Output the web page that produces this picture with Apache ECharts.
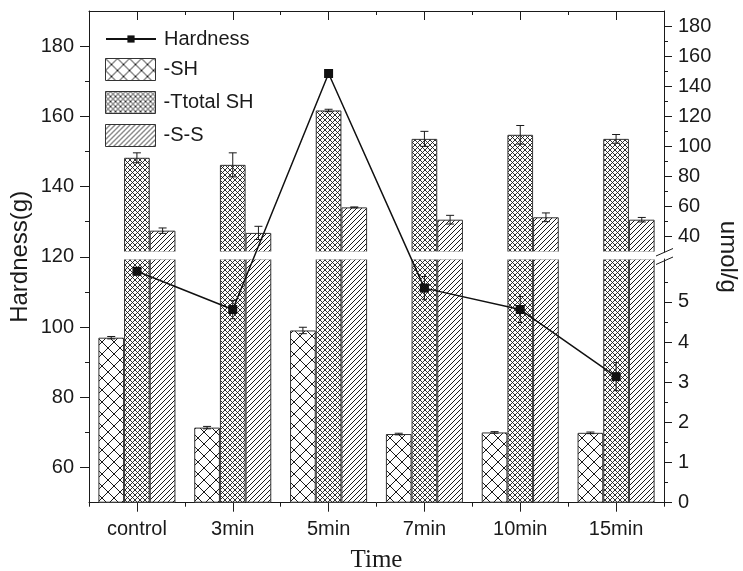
<!DOCTYPE html>
<html>
<head>
<meta charset="utf-8">
<script src="https://cdn.jsdelivr.net/npm/echarts@6/dist/echarts.min.js"></script>
<style>
html,body{margin:0;padding:0;background:#fff;}
#chart{width:743px;height:571px;}
</style>
</head>
<body>
<div id="chart"></div>
<script>
// Treatment times
const categories = ['control', '3min', '5min', '7min', '10min', '15min'];

// Hardness (g), left axis
const hardness = [115.9, 105, 172.2, 111.1, 105, 85.9];
const hardnessErr = [1, 2.6, 1, 3.3, 3.7, 4];

// Sulfhydryl / disulfide contents (umol/g), right axis
const freeSH = [4.11, 1.87, 4.29, 1.71, 1.75, 1.74];
const freeSHErr = [0.03, 0.03, 0.08, 0.02, 0.02, 0.02];
const totalSH = [92.3, 87.6, 123.8, 104.9, 107.6, 104.9];
const totalSHErr = [3.3, 8, 0.8, 5, 6.2, 2.9];
const disulfide = [43.8, 42.3, 59.3, 51.1, 52.7, 51.1];
const disulfideErr = [1.8, 4.4, 0.3, 2.9, 2.9, 1.5];

// Tick values
const leftTicks = [60, 80, 100, 120, 140, 160, 180];
const leftMinor = [70, 90, 110, 130, 150, 170];
const upperTicks = [40, 60, 80, 100, 120, 140, 160, 180];
const upperMinor = [50, 70, 90, 110, 130, 150, 170];
const lowerTicks = [0, 1, 2, 3, 4, 5];
const lowerMinor = [0.5, 1.5, 2.5, 3.5, 4.5, 5.5];

const FONT = "'Liberation Sans', Arial, sans-serif";
const INK = '#1a1a1a';
const CAT_GAP = 0.196;

function hatch(size, dirs, lw) {
  const c = document.createElement('canvas');
  c.width = c.height = size;
  const g = c.getContext('2d');
  g.fillStyle = '#fff';
  g.fillRect(0, 0, size, size);
  g.strokeStyle = INK;
  g.lineWidth = lw;
  dirs.forEach(function (d) {
    [-size, 0, size].forEach(function (k) {
      g.beginPath();
      if (d === '/') { g.moveTo(k - 1, size + 1); g.lineTo(k + size + 1, -1); }
      else { g.moveTo(k - 1, -1); g.lineTo(k + size + 1, size + 1); }
      g.stroke();
    });
  });
  return c;
}

const patSH = { image: hatch(12, ['/', '\\'], 1), repeat: 'repeat' };
const patTotal = { image: hatch(5, ['/', '\\'], 0.9), repeat: 'repeat' };
const patSS = { image: hatch(5, ['/'], 1), repeat: 'repeat' };

const barStyle = function (pat) {
  return { color: pat, borderColor: '#333', borderWidth: 1 };
};

// Error bar drawn at the slot of bar number `slot` (0..2), or at the category center when slot is null
function errorBars(slot, cap) {
  return function (params, api) {
    const i = api.value(0), v = api.value(1), e = api.value(2);
    const band = api.size([1, 0])[0];
    const bw = band * (1 - CAT_GAP) / 3;
    const x = api.coord([i, v])[0] + (slot === null ? 0 : (slot - 1) * bw);
    const yt = api.coord([i, v + e])[1];
    const yb = api.coord([i, v - e])[1];
    const st = { stroke: INK, lineWidth: 1 };
    return {
      type: 'group',
      children: [
        { type: 'line', shape: { x1: x, y1: yt, x2: x, y2: yb }, style: st },
        { type: 'line', shape: { x1: x - cap / 2, y1: yt, x2: x + cap / 2, y2: yt }, style: st },
        { type: 'line', shape: { x1: x - cap / 2, y1: yb, x2: x + cap / 2, y2: yb }, style: st }
      ]
    };
  };
}
function errData(values, errs) {
  return values.map(function (v, i) { return [i, v, errs[i]]; });
}

const W = 743, H = 571;
const GRID_L = 89, GRID_R = 79, GRID_T = 11, GRID_B = 68.3;
const UPPER_BOTTOM = 252, LOWER_TOP = 259;

const lineOn = { show: true, lineStyle: { color: INK, width: 1 } };
const lineOff = { show: false };
const labelStyle = { color: INK, fontSize: 20, fontFamily: FONT };

function catAxis(grid, pos, opts) {
  return Object.assign({
    type: 'category', data: categories, gridIndex: grid, position: pos,
    boundaryGap: true, splitLine: { show: false }
  }, opts);
}
function valAxis(grid, pos, min, max, opts) {
  return Object.assign({
    type: 'value', gridIndex: grid, position: pos, min: min, max: max,
    splitLine: { show: false }
  }, opts);
}

const legendText = { color: INK, fontSize: 20, fontFamily: FONT, padding: [0, 0, 0, 3] };

const option = {
  animation: false,
  backgroundColor: '#fff',
  grid: [
    { left: GRID_L, right: GRID_R, top: GRID_T, bottom: GRID_B, outerBoundsMode: 'none', containLabel: false },
    { left: GRID_L, right: GRID_R, top: GRID_T, bottom: H - UPPER_BOTTOM, outerBoundsMode: 'none', containLabel: false },
    { left: GRID_L, right: GRID_R, top: LOWER_TOP, bottom: GRID_B, outerBoundsMode: 'none', containLabel: false }
  ],
  legend: [
    {
      left: 100, top: 24, itemWidth: 50, itemHeight: 9,
      textStyle: legendText,
      data: ['Hardness']
    },
    {
      orient: 'vertical', left: 100, top: 53,
      itemWidth: 50, itemHeight: 22, itemGap: 10,
      textStyle: legendText,
      data: [
        { name: '-SH', icon: 'rect', itemStyle: { borderColor: '#333', borderWidth: 1 } },
        { name: '-Ttotal SH', icon: 'rect', itemStyle: { borderColor: '#333', borderWidth: 1 } },
        { name: '-S-S', icon: 'rect', itemStyle: { borderColor: '#333', borderWidth: 1 } }
      ]
    }
  ],
  xAxis: [
    catAxis(0, 'bottom', {
      axisLine: lineOn,
      axisTick: { show: true, alignWithLabel: true, length: 9, lineStyle: { color: INK } },
      axisLabel: Object.assign({ margin: 17 }, labelStyle),
      name: 'Time', nameLocation: 'middle', nameGap: 45,
      nameTextStyle: { color: INK, fontSize: 25, fontFamily: "'Liberation Serif', 'Times New Roman', serif" }
    }),
    catAxis(0, 'bottom', {
      axisLine: lineOff,
      axisTick: { show: true, alignWithLabel: false, length: 4, lineStyle: { color: INK } },
      axisLabel: { show: false }
    }),
    catAxis(0, 'top', {
      axisLine: lineOn,
      axisTick: { show: true, inside: true, alignWithLabel: true, length: 9, lineStyle: { color: INK } },
      axisLabel: { show: false }
    }),
    catAxis(0, 'top', {
      axisLine: lineOff,
      axisTick: { show: true, inside: true, alignWithLabel: false, length: 4, lineStyle: { color: INK } },
      axisLabel: { show: false }
    }),
    catAxis(1, 'bottom', { show: false }),
    catAxis(2, 'bottom', { show: false })
  ],
  yAxis: [
    valAxis(0, 'left', 50, 190, {
      axisLine: lineOn,
      axisTick: { show: true, length: 9, customValues: leftTicks, lineStyle: { color: INK } },
      axisLabel: Object.assign({ customValues: leftTicks, margin: 15 }, labelStyle),
      name: 'Hardness(g)', nameLocation: 'middle', nameRotate: 90, nameGap: 57,
      nameMoveOverlap: false,
      nameTextStyle: { color: INK, fontSize: 24, fontFamily: FONT }
    }),
    valAxis(0, 'left', 50, 190, {
      axisLine: lineOff,
      axisTick: { show: true, length: 4, customValues: leftMinor, lineStyle: { color: INK } },
      axisLabel: { show: false }
    }),
    valAxis(1, 'right', 29.6, 190, {
      axisLine: lineOn,
      axisTick: { show: true, length: 8, customValues: upperTicks, lineStyle: { color: INK } },
      axisLabel: Object.assign({ customValues: upperTicks, margin: 14 }, labelStyle)
    }),
    valAxis(1, 'right', 29.6, 190, {
      axisLine: lineOff,
      axisTick: { show: true, length: 4, customValues: upperMinor, lineStyle: { color: INK } },
      axisLabel: { show: false }
    }),
    valAxis(2, 'right', 0, 6.07, {
      axisLine: lineOn,
      axisTick: { show: true, length: 8, customValues: lowerTicks, lineStyle: { color: INK } },
      axisLabel: Object.assign({ customValues: lowerTicks, margin: 14 }, labelStyle)
    }),
    valAxis(2, 'right', 0, 6.07, {
      axisLine: lineOff,
      axisTick: { show: true, length: 4, customValues: lowerMinor, lineStyle: { color: INK } },
      axisLabel: { show: false }
    }),
    valAxis(0, 'right', 0, 1, {
      axisLine: lineOff, axisTick: { show: false }, axisLabel: { show: false },
      name: 'umol/g', nameLocation: 'middle', nameRotate: -90, nameGap: 52,
      nameTextStyle: { color: INK, fontSize: 24, fontFamily: FONT }
    })
  ],
  series: [],
  graphic: [
    // white band separating the two panels of the broken right axis
    { type: 'rect', z: 5, silent: true,
      shape: { x: GRID_L + 1, y: UPPER_BOTTOM - 0.5, width: W - GRID_L - GRID_R - 2, height: LOWER_TOP - UPPER_BOTTOM + 1 },
      style: { fill: '#fff' } },
    // axis break marks
    { type: 'line', z: 100, shape: { x1: 656, y1: 256, x2: 673, y2: 248.5 }, style: { stroke: INK, lineWidth: 1 } },
    { type: 'line', z: 100, shape: { x1: 656, y1: 264.5, x2: 673, y2: 257 }, style: { stroke: INK, lineWidth: 1 } }
  ]
};

// Bars: drawn in both the upper (30-190) and lower (0-6) panels of the broken right axis
[[4, 2], [5, 4]].forEach(function (ax) {
  [['-SH', freeSH, patSH], ['-Ttotal SH', totalSH, patTotal], ['-S-S', disulfide, patSS]].forEach(function (s) {
    option.series.push({
      type: 'bar', name: s[0], data: s[1],
      xAxisIndex: ax[0], yAxisIndex: ax[1],
      barGap: '0%', barCategoryGap: (CAT_GAP * 100) + '%',
      clip: true, itemStyle: barStyle(s[2]), z: 2
    });
  });
});

// Error bars on the bars
option.series.push(
  { type: 'custom', name: 'err-total', xAxisIndex: 4, yAxisIndex: 2, z: 3,
    renderItem: errorBars(1, 8), data: errData(totalSH, totalSHErr), encode: { x: 0, y: 1 } },
  { type: 'custom', name: 'err-ss', xAxisIndex: 4, yAxisIndex: 2, z: 3,
    renderItem: errorBars(2, 8), data: errData(disulfide, disulfideErr), encode: { x: 0, y: 1 } },
  { type: 'custom', name: 'err-sh', xAxisIndex: 5, yAxisIndex: 4, z: 3,
    renderItem: errorBars(0, 8), data: errData(freeSH, freeSHErr), encode: { x: 0, y: 1 } }
);

// Hardness line with error bars
option.series.push(
  { type: 'custom', name: 'err-hardness', xAxisIndex: 0, yAxisIndex: 0, z: 9,
    renderItem: errorBars(null, 5), data: errData(hardness, hardnessErr), encode: { x: 0, y: 1 } },
  { type: 'line', name: 'Hardness', data: hardness, xAxisIndex: 0, yAxisIndex: 0, z: 10,
    symbol: 'rect', symbolSize: 9, showAllSymbol: true,
    itemStyle: { color: '#111' }, lineStyle: { color: '#111', width: 1.5 } }
);

const chart = echarts.init(document.getElementById('chart'), null, { renderer: 'canvas' });
chart.setOption(option);
</script>
</body>
</html>
